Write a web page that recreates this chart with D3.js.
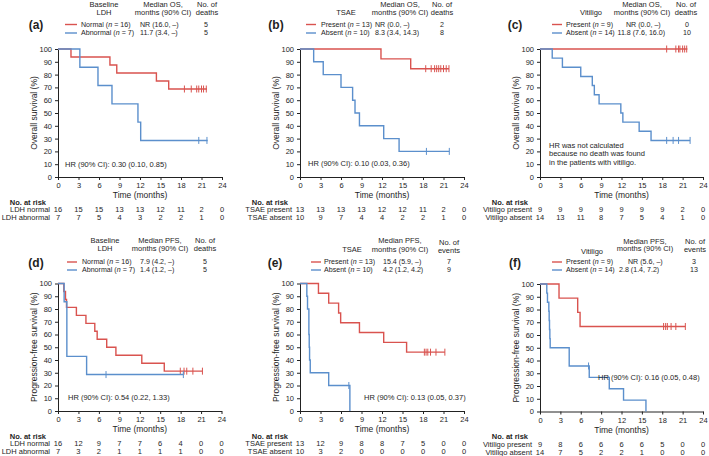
<!DOCTYPE html>
<html><head><meta charset="utf-8">
<script src="https://cdn.jsdelivr.net/npm/d3@7"></script>
<style>
body{margin:0;background:#fff;}
svg{display:block;}
text{font-family:"Liberation Sans",Arial,sans-serif;fill:#1e1e1e;}
</style>
</head><body>
<svg id="c" width="709" height="456"></svg>
<script>
// ---------- shared tick labels ----------
const xTicks=[0,3,6,9,12,15,18,21,24];
const yTicks=[0,10,20,30,40,50,60,70,80,90,100];

// ---------- (a) OS by baseline LDH ----------
const aNormal=[[0,100],[1.9,93.75],[7.6,87.5],[8.6,81.25],[14.4,75],[16.2,68.75],[21.8,68.75]];
const aNormalCens=[18.5,19.5,20.3,20.6,21.0,21.3,21.7];
const aAbnormal=[[0,100],[3.2,85.71],[5.85,71.43],[7.9,57.14],[11.7,42.86],[12.1,28.57],[21.9,28.57]];
const aAbnormalCens=[20.6,21.8];
const aRiskNormal=[16,15,15,13,13,12,11,2,0];
const aRiskAbnormal=[7,7,5,4,3,2,2,1,0];
const aNames=["Normal","Abnormal"], aNs=[16,7], aMeds=["NR (16.0, \u2013)","11.7 (3.4, \u2013)"], aCnts=["5","5"];
const aRiskLabels=["LDH normal","LDH abnormal"];
const aHR=["HR (90% CI): 0.30 (0.10, 0.85)"];

// ---------- (b) OS by TSAE ----------
const bPresent=[[0,100],[11.85,92.31],[16.2,84.62],[21.8,84.62]];
const bPresentCens=[18.4,19.2,19.7,20.0,20.3,20.6,21.0,21.4,21.8];
const bAbsent=[[0,100],[2.0,90],[3.4,80],[6.0,70],[7.7,60],[8.05,50],[8.7,40],[12.25,30],[14.5,20],[21.85,20]];
const bAbsentCens=[18.5,21.85];
const bRiskPresent=[13,13,13,13,12,12,11,2,0];
const bRiskAbsent=[10,9,7,4,4,2,2,1,0];
const bNames=["Present","Absent"], bNs=[13,10], bMeds=["NR (0.0, \u2013)","8.3 (3.4, 14.3)"], bCnts=["2","8"];
const bRiskLabels=["TSAE present","TSAE absent"];
const bHR=["HR (90% CI): 0.10 (0.03, 0.36)"];

// ---------- (c) OS by vitiligo ----------
const cPresent=[[0,100],[21.7,100]];
const cPresentCens=[18.65,20.0,20.4,20.6,21.0,21.3,21.6];
const cAbsent=[[0,100],[1.8,92.86],[3.3,85.71],[6.0,78.57],[7.7,71.43],[8.0,64.29],[8.7,57.14],[11.9,50],[12.2,42.86],[14.6,35.71],[16.35,28.57],[22.1,28.57]];
const cAbsentCens=[18.65,19.6,20.4,22.1];
const cRiskPresent=[9,9,9,9,9,9,9,2,0];
const cRiskAbsent=[14,13,11,8,7,5,4,1,0];
const cNames=["Present","Absent"], cNs=[9,14], cMeds=["NR (0.0, \u2013)","11.8 (7.6, 16.0)"], cCnts=["0","10"];
const cRiskLabels=["Vitiligo present","Vitiligo absent"];
const cHR=["HR was not calculated","because no death was found","in the patients with vitiligo."];

// ---------- (d) PFS by baseline LDH ----------
const dNormal=[[0,100],[0.85,93.75],[1.1,87.5],[1.25,81.25],[2.7,75],[4.1,68.75],[5.4,62.5],[5.75,56.25],[7.15,50],[8.5,43.75],[12.3,37.5],[15.6,31.25],[21.2,31.25]];
const dNormalCens=[17.95,18.5,18.9,19.8,21.2];
const dAbnormal=[[0,100],[0.9,85.71],[1.3,42.86],[4.2,28.57],[18.4,28.57]];
const dAbnormalCens=[7.05,18.4];
const dRiskNormal=[16,12,9,7,7,6,4,0,0];
const dRiskAbnormal=[7,3,2,1,1,1,1,0,0];
const dNames=["Normal","Abnormal"], dNs=[16,7], dMeds=["7.9 (4.2, \u2013)","1.4 (1.2, \u2013)"], dCnts=["5","5"];
const dRiskLabels=["LDH normal","LDH abnormal"];
const dHR=["HR (90% CI): 0.54 (0.22, 1.33)"];

// ---------- (e) PFS by TSAE ----------
const ePresent=[[0,100],[2.7,92.31],[4.2,84.62],[5.65,76.92],[5.95,69.23],[8.7,61.54],[12.25,53.85],[15.6,46.15],[21.2,46.15]];
const ePresentCens=[18.2,18.45,18.7,19.1,19.9,21.2];
const eAbsent=[[0,100],[1.0,90],[1.1,80],[1.3,70],[1.3,60],[1.35,50],[1.4,40],[1.5,30],[4.2,20],[7.3,0]];
const eAbsentCens=[7.15];
const eRiskPresent=[13,12,9,8,8,7,5,0,0];
const eRiskAbsent=[10,3,2,0,0,0,0,0,0];
const eNames=["Present","Absent"], eNs=[13,10], eMeds=["15.4 (5.9, \u2013)","4.2 (1.2, 4.2)"], eCnts=["7","9"];
const eRiskLabels=["TSAE present","TSAE absent"];
const eHR=["HR (90% CI): 0.13 (0.05, 0.37)"];

// ---------- (f) PFS by vitiligo ----------
const fPresent=[[0,100],[2.8,88.89],[5.55,77.78],[5.9,66.67],[21.4,66.67]];
const fPresentCens=[18.2,18.5,18.75,19.3,20.0,21.4];
const fAbsent=[[0,100],[1.0,92.86],[1.1,85.71],[1.3,78.57],[1.35,71.43],[1.4,64.29],[1.45,57.14],[1.5,50],[4.3,35.71],[7.25,26.79],[10.2,17.86],[12.3,8.93],[15.6,0]];
const fAbsentCens=[7.15];
const fRiskPresent=[9,8,6,6,6,6,5,0,0];
const fRiskAbsent=[14,7,5,2,2,1,0,0,0];
const fNames=["Present","Absent"], fNs=[9,14], fMeds=["NR (5.6, \u2013)","2.8 (1.4, 7.2)"], fCnts=["3","13"];
const fRiskLabels=["Vitiligo present","Vitiligo absent"];
const fHR=["HR (90% CI): 0.16 (0.05, 0.48)"];

// ---------- styling ----------
const RED="#d9534f", BLUE="#5b8fcc";
const FS=7.5, LFS=7.1;

const panels=[
 {lab:"(a)",x0:58,x1:222,yt:49,yb:177,ytitle:"Overall survival (%)",hr:aHR,hrX:65,hrY:[164],
  gH:["Baseline","LDH"],gHX:104,gHY:[4,12.5],mH:["Median OS,","months (90% CI)"],mHX:163,mHY:[4,12.5],
  cH:["No. of","deaths"],cHX:207,cHY:[4,12.5],labX:36,labY:25,lineX:[65,77],nameX:81,medX:[140,140],cntX:206,rowY:[24.5,33],
  names:aNames,ns:aNs,meds:aMeds,cnts:aCnts,riskLabels:aRiskLabels,risks:[aRiskNormal,aRiskAbnormal],
  series:[{steps:aNormal,cens:aNormalCens,color:RED},{steps:aAbnormal,cens:aAbnormalCens,color:BLUE}]},
 {lab:"(b)",x0:300,x1:464,yt:49,yb:177,ytitle:"Overall survival (%)",hr:bHR,hrX:308,hrY:[163],
  gH:["TSAE"],gHX:346,gHY:[12.5],mH:["Median OS,","months (90% CI)"],mHX:400,mHY:[4,12.5],
  cH:["No. of","deaths"],cHX:442,cHY:[4,12.5],labX:276,labY:25,lineX:[306,316],nameX:321,medX:[375,375],cntX:442,rowY:[24.5,33],
  names:bNames,ns:bNs,meds:bMeds,cnts:bCnts,riskLabels:bRiskLabels,risks:[bRiskPresent,bRiskAbsent],
  series:[{steps:bPresent,cens:bPresentCens,color:RED},{steps:bAbsent,cens:bAbsentCens,color:BLUE}]},
 {lab:"(c)",x0:540,x1:703,yt:49,yb:177,ytitle:"Overall survival (%)",hr:cHR,hrX:549,hrY:[145,153.5,162],
  gH:["Vitiligo"],gHX:591,gHY:[12.5],mH:["Median OS,","months (90% CI)"],mHX:642,mHY:[4,12.5],
  cH:["No. of","deaths"],cHX:686,cHY:[4,12.5],labX:515,labY:25,lineX:[552,562],nameX:566,medX:[626,617.5],cntX:687,rowY:[24.5,33],
  names:cNames,ns:cNs,meds:cMeds,cnts:cCnts,riskLabels:cRiskLabels,risks:[cRiskPresent,cRiskAbsent],
  series:[{steps:cPresent,cens:cPresentCens,color:RED},{steps:cAbsent,cens:cAbsentCens,color:BLUE}]},
 {lab:"(d)",x0:58,x1:221.5,yt:283.5,yb:411,ytitle:"Progression-free survival (%)",hr:dHR,hrX:68,hrY:[397],
  gH:["Baseline","LDH"],gHX:105,gHY:[240,248.5],mH:["Median PFS,","months (90% CI)"],mHX:160,mHY:[240,248.5],
  cH:["No. of","deaths"],cHX:205,cHY:[240,248.5],labX:36,labY:263,lineX:[67,77],nameX:82,medX:[140,140],cntX:205,rowY:[262,270],
  names:dNames,ns:dNs,meds:dMeds,cnts:dCnts,riskLabels:dRiskLabels,risks:[dRiskNormal,dRiskAbnormal],
  series:[{steps:dNormal,cens:dNormalCens,color:RED},{steps:dAbnormal,cens:dAbnormalCens,color:BLUE}]},
 {lab:"(e)",x0:300,x1:464,yt:283.5,yb:411,ytitle:"Progression-free survival (%)",hr:eHR,hrX:364,hrY:[397],
  gH:["TSAE"],gHX:352,gHY:[249.5],mH:["Median PFS,","months (90% CI)"],mHX:400,mHY:[240.5,249],
  cH:["No. of","events"],cHX:449,cHY:[242,250],labX:275,labY:263,lineX:[311,321],nameX:324,medX:[383,383],cntX:449,rowY:[262,270],
  names:eNames,ns:eNs,meds:eMeds,cnts:eCnts,riskLabels:eRiskLabels,risks:[eRiskPresent,eRiskAbsent],
  series:[{steps:ePresent,cens:ePresentCens,color:RED},{steps:eAbsent,cens:eAbsentCens,color:BLUE}]},
 {lab:"(f)",x0:540,x1:703,yt:284,yb:411.5,ytitle:"Progression-free survival (%)",hr:fHR,hrX:598,hrY:[377],
  gH:["Vitiligo"],gHX:592,gHY:[251],mH:["Median PFS,","months (90% CI)"],mHX:645,mHY:[241,248.5],
  cH:["No. of","events"],cHX:695,cHY:[241,249],labX:515,labY:263,lineX:[552,562],nameX:566,medX:[628,619],cntX:694,rowY:[262,270],
  names:fNames,ns:fNs,meds:fMeds,cnts:fCnts,riskLabels:fRiskLabels,risks:[fRiskPresent,fRiskAbsent],
  series:[{steps:fPresent,cens:fPresentCens,color:RED},{steps:fAbsent,cens:fAbsentCens,color:BLUE}]}
];

const svg=d3.select("#c");

function survAt(steps,t){
  let v=steps[0][1];
  for(const p of steps){ if(p[0]<=t) v=p[1]; }
  return v;
}
function txt(g,x,y,s,opts={}){
  return g.append("text").attr("x",x).attr("y",y).attr("dominant-baseline","central")
    .attr("text-anchor",opts.anchor||"start").attr("font-size",(opts.size||FS)+"px")
    .attr("font-weight",opts.bold?"bold":"normal").text(s);
}

panels.forEach(p=>{
  const g=svg.append("g");
  const x=d3.scaleLinear().domain([0,24]).range([p.x0,p.x1]);
  const y=d3.scaleLinear().domain([0,100]).range([p.yb,p.yt]);

  // axes
  const ya=g.append("g").attr("transform",`translate(${p.x0},0)`)
    .call(d3.axisLeft(y).tickValues(yTicks).tickSize(3).tickPadding(3).tickSizeOuter(0));
  const xa=g.append("g").attr("transform",`translate(0,${p.yb})`)
    .call(d3.axisBottom(x).tickValues(xTicks).tickSize(3).tickPadding(3).tickSizeOuter(0));
  [ya,xa].forEach(a=>{
    a.selectAll("text").attr("font-size",FS+"px").attr("font-family","'Liberation Sans',Arial,sans-serif").attr("fill","#1e1e1e");
    a.selectAll("line,path").attr("stroke","#222").attr("stroke-width",1);
  });

  // axis titles
  g.append("text").attr("transform",`translate(${p.x0-24},${(p.yt+p.yb)/2}) rotate(-90)`)
    .attr("text-anchor","middle").attr("dominant-baseline","central").attr("font-size","8.5px").text(p.ytitle);
  txt(g,(p.x0+p.x1)/2,p.yb+18,"Time (months)",{anchor:"middle",size:8.5});

  // curves
  const line=d3.line().x(d=>x(d[0])).y(d=>y(d[1])).curve(d3.curveStepAfter);
  p.series.forEach(s=>{
    g.append("path").datum(s.steps).attr("d",line).attr("fill","none")
      .attr("stroke",s.color).attr("stroke-width",1.4);
    g.selectAll(null).data(s.cens).enter().append("line")
      .attr("x1",t=>x(t)).attr("x2",t=>x(t))
      .attr("y1",t=>y(survAt(s.steps,t))-3.5).attr("y2",t=>y(survAt(s.steps,t))+3.5)
      .attr("stroke",s.color).attr("stroke-width",1);
  });

  // HR note
  p.hr.forEach((s,i)=>txt(g,p.hrX,p.hrY[i],s));

  // number at risk
  txt(g,p.x0-12,p.yb+25,"No. at risk",{anchor:"end",bold:true});
  p.risks.forEach((r,i)=>{
    const yy=p.yb+32.5+i*8.2;
    txt(g,p.x0-8,yy,p.riskLabels[i],{anchor:"end"});
    r.forEach((v,j)=>txt(g,x(xTicks[j]),yy,String(v),{anchor:"middle"}));
  });

  // header / legend table
  txt(g,p.labX,p.labY,p.lab,{anchor:"middle",bold:true,size:12});
  p.gH.forEach((s,i)=>txt(g,p.gHX,p.gHY[i],s,{anchor:"middle"}));
  p.mH.forEach((s,i)=>txt(g,p.mHX,p.mHY[i],s,{anchor:"middle"}));
  p.cH.forEach((s,i)=>txt(g,p.cHX,p.cHY[i],s,{anchor:"middle"}));
  p.series.forEach((s,i)=>{
    const yy=p.rowY[i];
    g.append("line").attr("x1",p.lineX[0]).attr("x2",p.lineX[1]).attr("y1",yy).attr("y2",yy)
      .attr("stroke",s.color).attr("stroke-width",1.4);
    const t=txt(g,p.nameX,yy,"",{size:LFS});
    t.append("tspan").text(p.names[i]+" (");
    t.append("tspan").attr("font-style","italic").text("n");
    t.append("tspan").text(" = "+p.ns[i]+")");
    txt(g,p.medX[i],yy,p.meds[i],{size:LFS});
    txt(g,p.cntX,yy,p.cnts[i],{anchor:"middle",size:LFS});
  });
});
</script>
</body></html>
